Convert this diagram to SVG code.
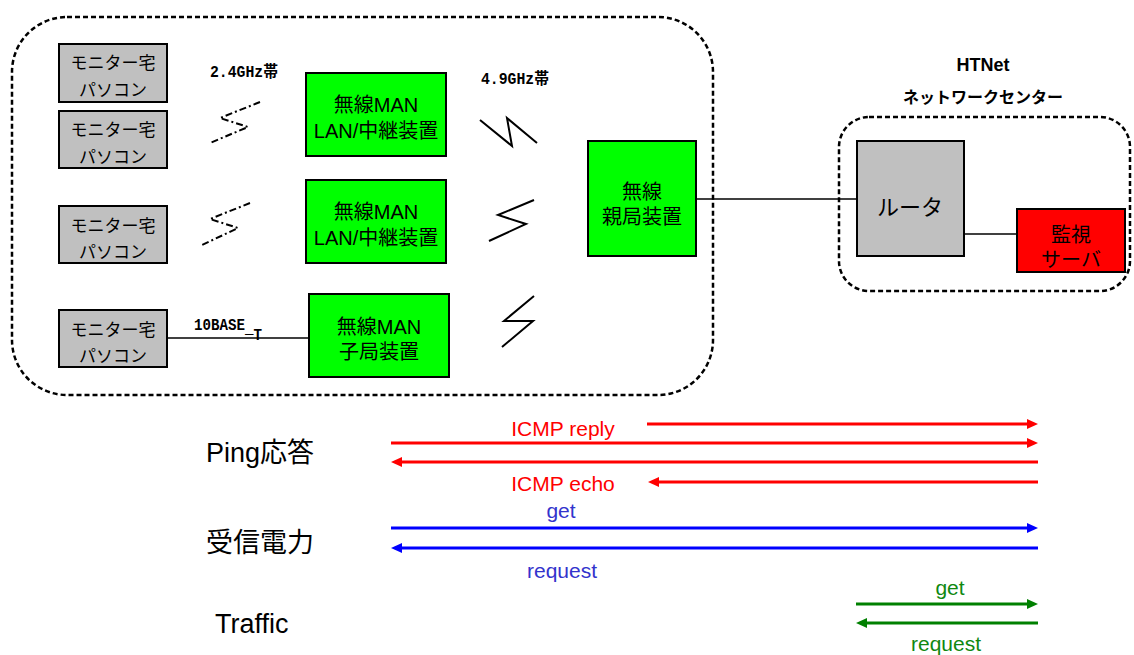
<svg xmlns="http://www.w3.org/2000/svg" width="1134" height="655" viewBox="0 0 1134 655">
  <style>
    .jp { font-family: "Liberation Sans", "Noto Sans CJK JP", sans-serif; fill: #000; }
    .mono { font-family: "Liberation Mono", "Noto Sans CJK JP", monospace; font-weight: bold; fill: #000; }
    .pc { fill: #c0c0c0; stroke: #000; stroke-width: 2; }
    .radio { fill: #00ff00; stroke: #000; stroke-width: 2; }
    .router { fill: #c0c0c0; stroke: #000; stroke-width: 2; }
    .server { fill: #ff0000; stroke: #000; stroke-width: 2; }
    .zone { fill: none; stroke: #000; stroke-width: 2.5; stroke-dasharray: 5 3; }
    .wire { stroke: #000; stroke-width: 1.5; fill: none; }
    .bolt { stroke: #000; stroke-width: 2; fill: none; stroke-linejoin: miter; }
    .bolt24 { stroke: #000; stroke-width: 2; fill: none; stroke-dasharray: 7 3 2 3; }
    .flow { stroke-width: 3; fill: none; }
    .red { stroke: #ff0000; }
    .blue { stroke: #0000ff; }
    .green { stroke: #008000; }
    .lbl { font-family: "Liberation Sans", Arial, sans-serif; font-size: 21px; text-anchor: middle; }
    .big { font-family: "Liberation Sans", "Noto Sans CJK JP", sans-serif; font-size: 27px; fill: #000; }
  </style>
  <defs>
    <marker id="ahRed" markerUnits="userSpaceOnUse" markerWidth="11" markerHeight="10" refX="3" refY="5" orient="auto-start-reverse">
      <path d="M0,0 L11,5 L0,10 z" fill="#ff0000"/>
    </marker>
    <marker id="ahBlue" markerUnits="userSpaceOnUse" markerWidth="11" markerHeight="10" refX="3" refY="5" orient="auto-start-reverse">
      <path d="M0,0 L11,5 L0,10 z" fill="#0000ff"/>
    </marker>
    <marker id="ahGreen" markerUnits="userSpaceOnUse" markerWidth="11" markerHeight="10" refX="3" refY="5" orient="auto-start-reverse">
      <path d="M0,0 L11,5 L0,10 z" fill="#008000"/>
    </marker>
  </defs>

  <!-- network zones -->
  <g id="zone-metro">
    <rect class="zone" x="12" y="17" width="701" height="378" rx="55" ry="55"/>
  </g>
  <g id="zone-htnet">
    <rect class="zone" x="839" y="117" width="291" height="174" rx="30" ry="30"/>
    <text class="jp" x="983" y="71" font-size="18" font-weight="bold" text-anchor="middle">HTNet</text>
    <text class="jp" x="983" y="103" font-size="16" font-weight="bold" text-anchor="middle">ネットワークセンター</text>
  </g>

  <!-- connectors -->
  <g id="connectors">
    <line class="wire" x1="167" y1="338" x2="309" y2="338"/>
    <line class="wire" x1="696" y1="199" x2="857" y2="199"/>
    <line class="wire" x1="964" y1="234" x2="1017" y2="234"/>
    <!-- 2.4GHz radio links -->
    <polyline class="bolt24" points="260,102 220,118 248,127 210,143"/>
    <polyline class="bolt24" points="250,203 210,219 238,228 202,245"/>
    <!-- 4.9GHz radio links -->
    <polyline class="bolt" points="480,120 512,146 507,118 537,143"/>
    <polyline class="bolt" points="534,200 498,215 526,224 489,241"/>
    <polyline class="bolt" points="534,296 504,321 533,321 502,347"/>
    <text class="mono" x="210" y="77" font-size="16" textLength="68" lengthAdjust="spacingAndGlyphs">2.4GHz帯</text>
    <text class="mono" x="481" y="84" font-size="16" textLength="68" lengthAdjust="spacingAndGlyphs">4.9GHz帯</text>
    <text class="mono" x="194" y="330" font-size="16" textLength="68" lengthAdjust="spacingAndGlyphs">10BASE<tspan dy="3">_</tspan><tspan dy="7">T</tspan></text>
  </g>

  <!-- monitor PCs -->
  <g id="pc1">
    <rect class="pc" x="59" y="44" width="108" height="58"/>
    <text class="jp" x="113" y="69" font-size="17" text-anchor="middle">モニター宅</text>
    <text class="jp" x="113" y="96" font-size="17" text-anchor="middle">パソコン</text>
  </g>
  <g id="pc2">
    <rect class="pc" x="59" y="111" width="108" height="57"/>
    <text class="jp" x="113" y="136" font-size="17" text-anchor="middle">モニター宅</text>
    <text class="jp" x="113" y="163" font-size="17" text-anchor="middle">パソコン</text>
  </g>
  <g id="pc3">
    <rect class="pc" x="59" y="206" width="108" height="57"/>
    <text class="jp" x="113" y="232" font-size="17" text-anchor="middle">モニター宅</text>
    <text class="jp" x="113" y="258" font-size="17" text-anchor="middle">パソコン</text>
  </g>
  <g id="pc4">
    <rect class="pc" x="59" y="310" width="108" height="57"/>
    <text class="jp" x="113" y="336" font-size="17" text-anchor="middle">モニター宅</text>
    <text class="jp" x="113" y="362" font-size="17" text-anchor="middle">パソコン</text>
  </g>

  <!-- wireless MAN units -->
  <g id="relay1">
    <rect class="radio" x="306" y="73" width="140" height="83"/>
    <text class="jp" x="376" y="112" font-size="20" text-anchor="middle">無線MAN</text>
    <text class="jp" x="376" y="138" font-size="20" text-anchor="middle">LAN/中継装置</text>
  </g>
  <g id="relay2">
    <rect class="radio" x="306" y="180" width="140" height="83"/>
    <text class="jp" x="376" y="219" font-size="20" text-anchor="middle">無線MAN</text>
    <text class="jp" x="376" y="245" font-size="20" text-anchor="middle">LAN/中継装置</text>
  </g>
  <g id="subunit">
    <rect class="radio" x="309" y="294" width="140" height="83"/>
    <text class="jp" x="379" y="334" font-size="20" text-anchor="middle">無線MAN</text>
    <text class="jp" x="379" y="359" font-size="20" text-anchor="middle">子局装置</text>
  </g>
  <g id="base-station">
    <rect class="radio" x="588" y="141" width="108" height="115"/>
    <text class="jp" x="642" y="199" font-size="20" text-anchor="middle">無線</text>
    <text class="jp" x="642" y="224" font-size="20" text-anchor="middle">親局装置</text>
  </g>

  <!-- network center -->
  <g id="router">
    <rect class="router" x="857" y="141" width="107" height="115"/>
    <text class="jp" x="910" y="215" font-size="22" text-anchor="middle">ルータ</text>
  </g>
  <g id="monitor-server">
    <rect class="server" x="1017" y="209" width="108" height="63"/>
    <text class="jp" x="1071" y="242" font-size="20" text-anchor="middle">監視</text>
    <text class="jp" x="1071" y="267" font-size="20" text-anchor="middle">サーバ</text>
  </g>

  <!-- message flows -->
  <g id="flows">
    <text class="big" x="206" y="462">Ping応答</text>
    <text class="big" x="206" y="552">受信電力</text>
    <text class="big" x="215" y="633">Traffic</text>

    <line class="flow red" x1="647" y1="424" x2="1030" y2="424" marker-end="url(#ahRed)"/>
    <line class="flow red" x1="391" y1="443" x2="1030" y2="443" marker-end="url(#ahRed)"/>
    <line class="flow red" x1="399" y1="462" x2="1038" y2="462" marker-start="url(#ahRed)"/>
    <line class="flow red" x1="656" y1="482" x2="1038" y2="482" marker-start="url(#ahRed)"/>
    <text class="lbl" x="563" y="436" fill="#ff0000">ICMP reply</text>
    <text class="lbl" x="563" y="491" fill="#ff0000">ICMP echo</text>

    <line class="flow blue" x1="391" y1="528" x2="1030" y2="528" marker-end="url(#ahBlue)"/>
    <line class="flow blue" x1="399" y1="548" x2="1038" y2="548" marker-start="url(#ahBlue)"/>
    <text class="lbl" x="561" y="518" fill="#3333cc">get</text>
    <text class="lbl" x="562" y="578" fill="#3333cc">request</text>

    <line class="flow green" x1="856" y1="604" x2="1030" y2="604" marker-end="url(#ahGreen)"/>
    <line class="flow green" x1="864" y1="623" x2="1038" y2="623" marker-start="url(#ahGreen)"/>
    <text class="lbl" x="950" y="595" fill="#108810">get</text>
    <text class="lbl" x="946" y="651" fill="#108810">request</text>
  </g>
</svg>
